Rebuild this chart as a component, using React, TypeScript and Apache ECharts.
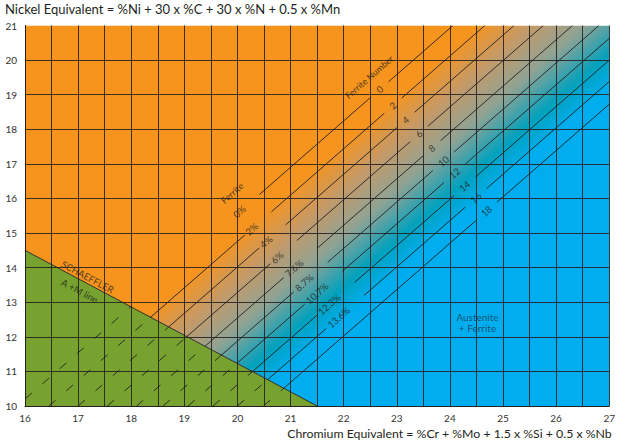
import React, { useEffect, useRef } from "react";
import * as echarts from "echarts";

// ---------- data ----------
const CR_RANGE = [16, 27];
const NI_RANGE = [10, 21];
const TICK_STEP = 1;

const FN_LABELS = ["0", "2", "4", "6", "8", "10", "12", "14", "16", "18"];
const PCT_LABELS = ["0%", "2%", "4%", "6%", "7.6%", "8.7%", "10.7%", "12.3%", "13.6%", ""];
// Cr equivalent where each iso-ferrite line crosses Ni equivalent = 10
const ISO_LINE_CR_AT_NI10 = [15.85, 16.45, 17.0, 17.55, 18.1, 18.6, 19.07, 19.54, 20.0, 20.49];
const ISO_LINE_SLOPE = 1.34;
// Cr equivalent of the label centres along each line
const FN_LABEL_CR = [22.68, 22.93, 23.17, 23.42, 23.66, 23.88, 24.09, 24.28, 24.49, 24.69];
const PCT_LABEL_CR = [20.04, 20.27, 20.54, 20.75, 21.07, 21.26, 21.5, 21.73, 21.91, 0];
// Schaeffler A+M line
const AM_LINE = [[16, 14.5], [21.5, 10]];
// ferrite gradient (iso-line positions, Cr at Ni=10) and colours
const GRADIENT_STOP_CR = [16.3, 17.35, 18.35, 19.42, 20.15];
const GRADIENT_COLORS = ["#F7941D", "#C39A6A", "#8FA394", "#02A1BE", "#00AEEF"];

const ANNOTATIONS = [
  { text: "Ferrite Number", cr: 22.48, ni: 19.51, along: "iso", size: 9 },
  { text: "Ferrite", cr: 19.9, ni: 16.16, along: "iso", size: 9 },
  { text: "SCHAEFFLER", cr: 17.18, ni: 13.73, along: "am", size: 9.5 },
  { text: "A +M line", cr: 17.03, ni: 13.32, along: "am", size: 9.5 },
  { text: "Austenite\n+ Ferrite", cr: 24.52, ni: 12.4, along: "none", size: 10 },
];

const FONT = "Lato, 'Open Sans', sans-serif";
const INK = "#231F20";

// ---------- derived geometry ----------
const S = ISO_LINE_SLOPE;
const isoY = (x0: number, x: number) => NI_RANGE[0] + S * (x - x0);
const amSlope = (AM_LINE[1][1] - AM_LINE[0][1]) / (AM_LINE[1][0] - AM_LINE[0][0]);
const amCross = (x0: number) =>
  (NI_RANGE[0] - S * x0 - AM_LINE[0][1] + amSlope * AM_LINE[0][0]) / (amSlope - S);
const isoEnd = (x0: number) => Math.min(x0 + (NI_RANGE[1] - NI_RANGE[0]) / S, CR_RANGE[1]);

const solidSegs: number[][] = [];
const dashedSegs: number[][] = [];
ISO_LINE_CR_AT_NI10.forEach((x0, i) => {
  const a = amCross(x0);
  const cuts: number[][] = [];
  const pct = PCT_LABELS[i];
  if (pct) {
    const px = PCT_LABEL_CR[i];
    cuts.push([px - (0.06 + 0.035 * pct.length), px + 0.3 + 0.035 * pct.length]);
  }
  const fx = FN_LABEL_CR[i];
  const fh = 0.13 + 0.035 * FN_LABELS[i].length;
  cuts.push([fx - fh, fx + fh]);
  const pieces: number[][] = [];
  let cur = a;
  cuts.forEach((c) => {
    if (cur < c[0]) pieces.push([cur, c[0]]);
    cur = c[1];
  });
  pieces.push([cur, isoEnd(x0)]);
  if (FN_LABELS[i] === "0" && pct) pieces.shift();
  pieces.forEach(([u, v]) => solidSegs.push([u, isoY(x0, u), v, isoY(x0, v)]));
  const ds = Math.max(x0, CR_RANGE[0]);
  dashedSegs.push([ds, isoY(x0, ds), a, isoY(x0, a)]);
});
solidSegs.push([AM_LINE[0][0], AM_LINE[0][1], AM_LINE[1][0], AM_LINE[1][1]]);

const REGIONS = [
  {
    points: [[CR_RANGE[0], NI_RANGE[1]], [CR_RANGE[1], NI_RANGE[1]], [CR_RANGE[1], NI_RANGE[0]], AM_LINE[1], AM_LINE[0]],
    gradient: true,
    color: GRADIENT_COLORS[0],
  },
  {
    points: [AM_LINE[0], AM_LINE[1], [CR_RANGE[0], NI_RANGE[0]]],
    gradient: false,
    color: "#77A22F",
  },
];

type TextItem = { text: string; cr: number; ni: number; along: string; size: number };
const TEXTS: TextItem[] = [];
ISO_LINE_CR_AT_NI10.forEach((x0, i) => {
  TEXTS.push({ text: FN_LABELS[i], cr: FN_LABEL_CR[i], ni: isoY(x0, FN_LABEL_CR[i]), along: "iso", size: 9.5 });
  if (PCT_LABELS[i])
    TEXTS.push({ text: PCT_LABELS[i], cr: PCT_LABEL_CR[i], ni: isoY(x0, PCT_LABEL_CR[i]), along: "iso", size: 9.5 });
});
ANNOTATIONS.forEach((a) => TEXTS.push(a));

function isoAngle(api: any) {
  const p1 = api.coord([18, NI_RANGE[0]]);
  const p2 = api.coord([19, NI_RANGE[0] + S]);
  return -Math.atan2(p2[1] - p1[1], p2[0] - p1[0]);
}
function amAngle(api: any) {
  const p1 = api.coord(AM_LINE[0]);
  const p2 = api.coord(AM_LINE[1]);
  return -Math.atan2(p2[1] - p1[1], p2[0] - p1[0]);
}

function makeGradient(api: any) {
  const first = GRADIENT_STOP_CR[0];
  const last = GRADIENT_STOP_CR[GRADIENT_STOP_CR.length - 1];
  const A = api.coord([first, NI_RANGE[0]]);
  const B = api.coord([last, NI_RANGE[0]]);
  const q1 = api.coord([first, NI_RANGE[0]]);
  const q2 = api.coord([first + 1, NI_RANGE[0] + S]);
  let dx = q2[0] - q1[0];
  let dy = q2[1] - q1[1];
  const len = Math.hypot(dx, dy);
  dx /= len;
  dy /= len;
  const nx = -dy;
  const ny = dx;
  const dist = (B[0] - A[0]) * nx + (B[1] - A[1]) * ny;
  const E = [A[0] + nx * dist, A[1] + ny * dist];
  const stops = GRADIENT_STOP_CR.map((c, i) => ({
    offset: (c - first) / (last - first),
    color: GRADIENT_COLORS[i],
  }));
  return new echarts.graphic.LinearGradient(A[0], A[1], E[0], E[1], stops, true);
}

const segRender = (dashed: boolean) => (params: any, api: any) => {
  const p1 = api.coord([api.value(0), api.value(1)]);
  const p2 = api.coord([api.value(2), api.value(3)]);
  return {
    type: "line",
    shape: { x1: p1[0], y1: p1[1], x2: p2[0], y2: p2[1] },
    style: {
      stroke: INK,
      lineWidth: 1,
      opacity: 0.9,
      lineDash: dashed ? [9, 14] : null,
    },
  };
};

export default function App() {
  const ref = useRef<HTMLDivElement>(null);
  useEffect(() => {
    if (!ref.current) return;
    const chart = echarts.init(ref.current, null, { renderer: "svg" });
    const gridLine = { color: INK, width: 1, opacity: 0.88 };
    chart.setOption({
      animation: false,
      textStyle: { fontFamily: FONT },
      grid: { left: 25, right: 7, top: 25.5, bottom: 39 },
      xAxis: {
        type: "value",
        min: CR_RANGE[0],
        max: CR_RANGE[1],
        interval: TICK_STEP,
        z: 3,
        axisLine: { show: true, onZero: false, lineStyle: { color: INK, width: 1 } },
        axisTick: { show: false },
        axisLabel: { color: "#333", fontSize: 10, margin: 7, fontFamily: FONT },
        splitLine: { show: true, lineStyle: gridLine },
        minorTick: { show: false, splitNumber: 2 },
        minorSplitLine: { show: true, lineStyle: gridLine },
      },
      yAxis: {
        type: "value",
        min: NI_RANGE[0],
        max: NI_RANGE[1],
        interval: TICK_STEP,
        z: 3,
        axisLine: { show: true, onZero: false, lineStyle: { color: INK, width: 1 } },
        axisTick: { show: false },
        axisLabel: { color: "#333", fontSize: 10, margin: 8, fontFamily: FONT },
        splitLine: { show: true, showMaxLine: false, lineStyle: gridLine },
      },
      graphic: [
        {
          type: "text",
          left: 5,
          top: 2,
          style: {
            text: "Nickel Equivalent = %Ni + 30 x %C + 30 x %N + 0.5 x %Mn",
            fill: INK,
            fontSize: 13,
            fontFamily: FONT,
          },
        },
        {
          type: "text",
          right: 6,
          top: 427,
          style: {
            text: "Chromium Equivalent = %Cr + %Mo + 1.5 x %Si + 0.5 x %Nb",
            fill: INK,
            fontSize: 12.3,
            fontFamily: FONT,
          },
        },
      ],
      series: [
        {
          type: "custom",
          coordinateSystem: "cartesian2d",
          z: 1,
          silent: true,
          clip: true,
          data: REGIONS.map((r, i) => [CR_RANGE[0], NI_RANGE[0], i]),
          renderItem: (params: any, api: any) => {
            const reg = REGIONS[params.dataIndex];
            const pts = reg.points.map((p) => api.coord(p));
            return {
              type: "polygon",
              shape: { points: pts },
              style: { fill: reg.gradient ? makeGradient(api) : reg.color, stroke: "none" },
            };
          },
        },
        {
          type: "custom",
          coordinateSystem: "cartesian2d",
          z: 4,
          silent: true,
          clip: true,
          data: dashedSegs,
          renderItem: segRender(true),
        },
        {
          type: "custom",
          coordinateSystem: "cartesian2d",
          z: 4,
          silent: true,
          clip: true,
          data: solidSegs,
          renderItem: segRender(false),
        },
        {
          type: "custom",
          coordinateSystem: "cartesian2d",
          z: 5,
          silent: true,
          data: TEXTS.map((t) => [t.cr, t.ni]),
          renderItem: (params: any, api: any) => {
            const t = TEXTS[params.dataIndex];
            const p = api.coord([t.cr, t.ni]);
            const rot = t.along === "iso" ? isoAngle(api) : t.along === "am" ? amAngle(api) : 0;
            return {
              type: "text",
              x: p[0],
              y: p[1],
              rotation: rot,
              style: {
                text: t.text,
                fill: t.along === "none" ? "#1E3A52" : INK,
                opacity: 0.8,
                fontSize: t.size,
                fontFamily: FONT,
                align: "center",
                verticalAlign: "middle",
                lineHeight: 11,
              },
            };
          },
        },
      ],
    });
    return () => chart.dispose();
  }, []);
  return (
    <div
      ref={ref}
      style={{ position: "fixed", left: 0, top: 0, width: 618, height: 445, background: "#fff" }}
    />
  );
}
